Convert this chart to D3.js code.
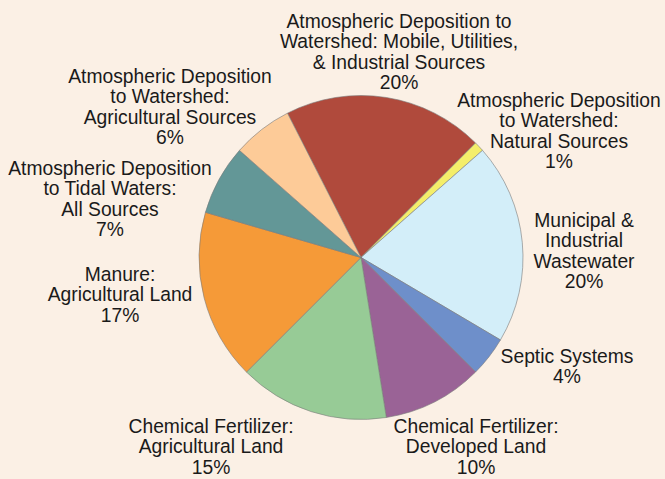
<!DOCTYPE html>
<html>
<head>
<meta charset="utf-8">
<script src="https://cdn.jsdelivr.net/npm/d3@7"></script>
<style>
  html, body { margin: 0; padding: 0; background: #FBF0E5; }
  svg { display: block; }
  text { font-family: "Liberation Sans", Arial, sans-serif; fill: #1a1a1a; }
</style>
</head>
<body>
<svg id="chart" width="665" height="479"></svg>
<script>
// Nitrogen sources, in clockwise order starting from the largest atmospheric slice
const categories = [
  "Atmospheric Deposition to Watershed: Mobile, Utilities, & Industrial Sources",
  "Atmospheric Deposition to Watershed: Natural Sources",
  "Municipal & Industrial Wastewater",
  "Septic Systems",
  "Chemical Fertilizer: Developed Land",
  "Chemical Fertilizer: Agricultural Land",
  "Manure: Agricultural Land",
  "Atmospheric Deposition to Tidal Waters: All Sources",
  "Atmospheric Deposition to Watershed: Agricultural Sources"
];
const values = [20, 1, 20, 4, 10, 15, 17, 7, 6];
const colors = ["#B04A3C", "#F4EE6A", "#D3EEF9", "#6E8FCA", "#9A6396", "#97CB96", "#F59A38", "#639797", "#FDCB98"];

// Label text lines for each slice (value line appended from values[])
const labelLines = [
  ["Atmospheric Deposition to", "Watershed: Mobile, Utilities,", "& Industrial Sources"],
  ["Atmospheric Deposition", "to Watershed:", "Natural Sources"],
  ["Municipal &", "Industrial", "Wastewater"],
  ["Septic Systems"],
  ["Chemical Fertilizer:", "Developed Land"],
  ["Chemical Fertilizer:", "Agricultural Land"],
  ["Manure:", "Agricultural Land"],
  ["Atmospheric Deposition", "to Tidal Waters:", "All Sources"],
  ["Atmospheric Deposition", "to Watershed:", "Agricultural Sources"]
];
// Anchor (center x, first baseline y) of each label block
const labelAnchors = [
  [399, 28], [559, 107], [584, 227], [567, 363], [476, 433],
  [211, 433], [120, 281], [110, 175], [170, 83]
];

const svg = d3.select("#chart");
const cx = 361, cy = 257.5, radius = 162;
const startDeg = -27;

const pie = d3.pie()
  .sort(null)
  .value(d => d)
  .startAngle(startDeg * Math.PI / 180)
  .endAngle((startDeg + 360) * Math.PI / 180);

const arc = d3.arc().innerRadius(0).outerRadius(radius);

const g = svg.append("g").attr("transform", `translate(${cx},${cy})`);

g.selectAll("path")
  .data(pie(values))
  .join("path")
  .attr("d", arc)
  .attr("fill", (d, i) => colors[i])
  .attr("stroke", "#7a7a7a")
  .attr("stroke-width", 0.6);

const lineH = 20.3;
const labels = svg.append("g").attr("font-size", 19.3).attr("text-anchor", "middle");
labelLines.forEach((lines, i) => {
  const all = lines.concat([values[i] + "%"]);
  const t = labels.append("text")
    .attr("x", labelAnchors[i][0])
    .attr("y", labelAnchors[i][1]);
  all.forEach((s, k) => {
    t.append("tspan")
      .attr("x", labelAnchors[i][0])
      .attr("dy", k === 0 ? 0 : lineH)
      .text(s);
  });
});
</script>
</body>
</html>
